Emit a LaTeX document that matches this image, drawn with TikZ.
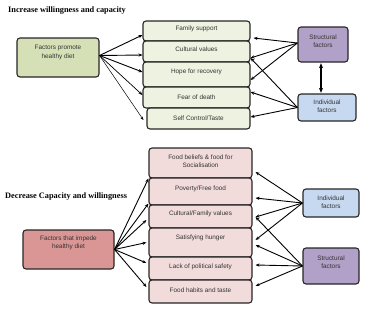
\documentclass[tikz,border=0pt]{standalone}
\usepackage{fontspec}
\setmainfont{Liberation Serif}
\setsansfont{Liberation Sans}
\usetikzlibrary{arrows.meta,calc}
\definecolor{gLeft}{HTML}{D6E0B6}
\definecolor{gMid}{HTML}{EEF2E0}
\definecolor{purp}{HTML}{B1A0C7}
\definecolor{lblue}{HTML}{C6D9F1}
\definecolor{rose}{HTML}{D99694}
\definecolor{pink}{HTML}{F2DCDB}
\begin{document}
\begin{tikzpicture}[x=1pt,y=-1pt,
  box/.style={draw=black!85, line width=1.1pt, rounded corners=3pt, inner sep=0pt},
  txt/.style={font=\sffamily\fontsize{6.4}{8.5}\selectfont, text=black!80, align=center, inner sep=0pt},
  ttl/.style={font=\bfseries\fontsize{8.3}{10}\selectfont, anchor=west, inner sep=0pt},
  arr/.style={-{Stealth[length=4pt,width=3.2pt]}, line width=0.9pt},
  arrthin/.style={-{Stealth[length=3.5pt,width=2.8pt]}, line width=0.5pt},
  dbl/.style={{Stealth[length=5pt,width=4pt]}-{Stealth[length=5pt,width=4pt]}, line width=1.1pt, shorten <=0.6pt, shorten >=0.6pt}]
\useasboundingbox (0,0) rectangle (365,309);

% ---------- top section ----------
\node[ttl] (t1) at (8,11) {Increase willingness and capacity};

\node[box, fill=gLeft, minimum width=82pt, minimum height=39pt] (promote) at (58,57.5) {};
\node[txt] (promote-t) at ($(promote)+(0,-5)$) {Factors promote\\healthy diet};

\node[box, fill=gMid, minimum width=107pt, minimum height=20pt] (fs) at (196.5,31) {};
\node[box, fill=gMid, minimum width=107pt, minimum height=21pt] (cv) at (196.5,51.5) {};
\node[box, fill=gMid, minimum width=107pt, minimum height=25pt] (hr) at (196.5,74.5) {};
\node[box, fill=gMid, minimum width=107pt, minimum height=21pt] (fd) at (196.5,97.5) {};
\node[box, fill=gMid, minimum width=103pt, minimum height=21pt] (sc) at (198.5,118.5) {};
\node[txt] (fs-t) at ($(fs)+(0,-2)$) {Family support};
\node[txt] (cv-t) at ($(cv)+(0,-2.5)$) {Cultural values};
\node[txt] (hr-t) at ($(hr)+(0,-2.5)$) {Hope for recovery};
\node[txt] (fd-t) at ($(fd)+(0,-0.5)$) {Fear of death};
\node[txt] (sc-t) at ($(sc)+(0,-0.5)$) {Self Control/Taste};

\node[box, fill=purp, minimum width=50pt, minimum height=35pt] (strT) at (323,44.5) {};
\node[txt] (strT-t) at ($(strT)+(0,-3.5)$) {Structural\\factors};
\node[box, fill=lblue, minimum width=58pt, minimum height=27pt] (indT) at (327,107.5) {};
\node[txt] (indT-t) at ($(indT)+(0,-1.5)$) {Individual\\factors};

\draw[arr] ($(promote.east)+(0,-2)$) -- ($(fs.west)+(0,4)$);
\draw[arr] ($(promote.east)+(0,-2)$) -- ($(cv.west)+(0,3.5)$);
\draw[arr] ($(promote.east)+(0,-2)$) -- ($(hr.west)+(0,-2.5)$);
\draw[arr, line width=0.7pt] ($(promote.east)+(0,-2)$) -- ($(fd.west)+(0,-2.5)$);
\draw[arrthin] ($(promote.east)+(0,-2)$) -- ($(sc.west)+(-3,1.5)$);

\draw[arr] ($(strT.west)+(0,-1.5)$) -- ($(fs.east)+(3,7)$);
\draw[arr] ($(strT.west)+(0,-1.5)$) -- ($(cv.east)+(0,6.5)$);
\draw[arr] ($(strT.west)+(0,-1.5)$) -- ($(hr.east)+(0,5.5)$);
\draw[arr] (indT.west) -- ($(cv.east)+(0,6.5)$);
\draw[arr] (indT.west) -- ($(fd.east)+(0,-5.5)$);
\draw[arr] (indT.west) -- ($(sc.east)+(0,-1.5)$);

\draw[dbl] ($(strT.south)+(-2,0)$) -- ($(indT.north)+(-6,0)$);

% ---------- bottom section ----------
\node[ttl] (t2) at (5,197) {Decrease Capacity and willingness};

\node[box, fill=rose, minimum width=91pt, minimum height=39pt] (impede) at (68.5,249.5) {};
\node[txt] (impede-t) at ($(impede)+(0,-6.5)$) {Factors that impede\\healthy diet};

\node[box, fill=pink, minimum width=103pt, minimum height=30pt] (fb) at (200.5,163) {};
\node[box, fill=pink, minimum width=103pt, minimum height=27pt] (pv) at (200.5,191.5) {};
\node[box, fill=pink, minimum width=103pt, minimum height=23pt] (cf) at (200.5,216.5) {};
\node[box, fill=pink, minimum width=103pt, minimum height=29pt] (sh) at (200.5,242.5) {};
\node[box, fill=pink, minimum width=103pt, minimum height=23pt] (lp) at (200.5,268.5) {};
\node[box, fill=pink, minimum width=103pt, minimum height=23pt] (fh) at (200.5,291.5) {};
\node[txt] (fb-t) at ($(fb)+(0,-2)$) {Food beliefs \& food for\\Socialisation};
\node[txt] (pv-t) at ($(pv)+(0,-2.5)$) {Poverty/Free food};
\node[txt] (cf-t) at ($(cf)+(0,-2.5)$) {Cultural/Family values};
\node[txt] (sh-t) at ($(sh)+(0,-4.5)$) {Satisfying hunger};
\node[txt] (lp-t) at ($(lp)+(0,-1.5)$) {Lack of political safety};
\node[txt] (fh-t) at ($(fh)+(0,-1.5)$) {Food habits and taste};

\node[box, fill=lblue, minimum width=56pt, minimum height=28pt] (indB) at (331,203) {};
\node[txt] (indB-t) at ($(indB)+(0,-1)$) {Individual\\factors};
\node[box, fill=purp, minimum width=56pt, minimum height=36pt] (strB) at (331,266) {};
\node[txt] (strB-t) at ($(strB)+(0,-4)$) {Structural\\factors};

\draw[arr] (impede.east) -- (fb.south west);
\draw[arr] (impede.east) -- ($(pv.south west)+(0,-2)$);
\draw[arr] (impede.east) -- ($(cf.west)+(-2,3.5)$);
\draw[arr] (impede.east) -- ($(sh.west)+(-2,0)$);
\draw[arr] (impede.east) -- ($(lp.west)+(-2,-5.5)$);
\draw[arr] (impede.east) -- ($(fh.west)+(-2,-4.5)$);

\draw[arr] (indB.west) -- ($(fb.east)+(3,9)$);
\draw[arr] (indB.west) -- ($(pv.east)+(3,6.5)$);
\draw[arr] (indB.west) -- ($(cf.east)+(3,0.5)$);
\draw[arr] (indB.west) -- ($(sh.east)+(3,-2.5)$);
\draw[arr] (strB.west) -- ($(cf.east)+(3,0.5)$);
\draw[arr] (strB.west) -- ($(sh.east)+(3,2.5)$);
\draw[arr] (strB.west) -- ($(lp.east)+(3,-3.5)$);
\draw[arr] (strB.west) -- ($(fh.east)+(3,-5.5)$);
\end{tikzpicture}
\end{document}
